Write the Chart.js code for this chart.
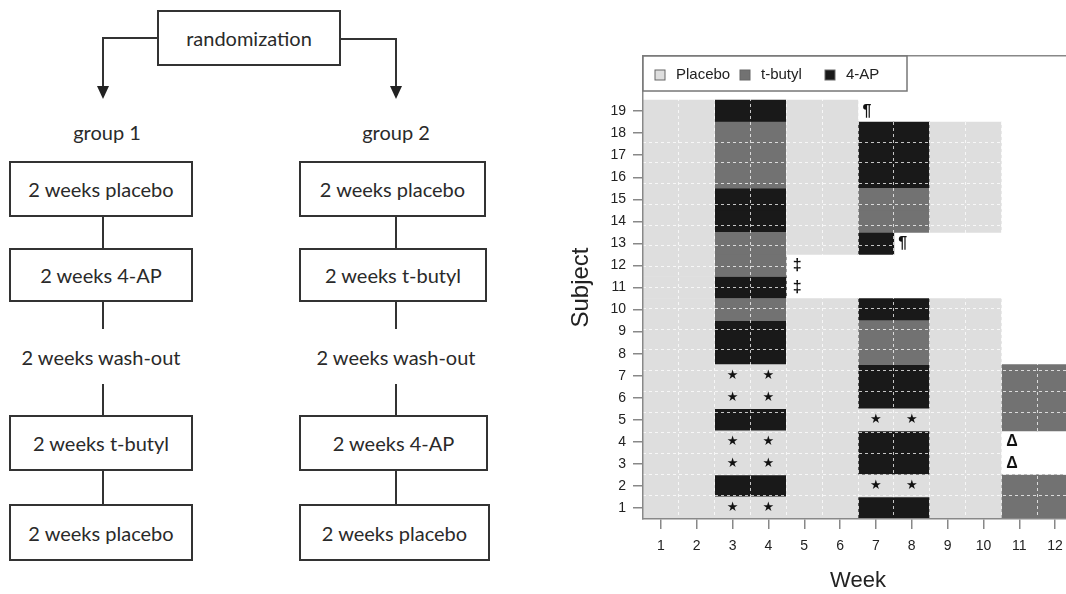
<!DOCTYPE html>
<html>
<head>
<meta charset="utf-8">
<script src="https://cdn.jsdelivr.net/npm/chart.js@4.4.0/dist/chart.umd.min.js"></script>
<style>
html, body { margin: 0; padding: 0; background: #fff; overflow: hidden; width: 1066px; height: 594px; }
#flow { position: absolute; left: 0; top: 0; width: 540px; height: 594px; font-family: Lato, "Open Sans", sans-serif; color: #2a2a2a; }
.box { position: absolute; border: 2px solid #333; box-sizing: border-box; display: flex; align-items: center; justify-content: center; font-size: 20px; background: #fff; white-space: nowrap; }
.txt { position: absolute; transform: translate(-50%, -50%); font-size: 20px; white-space: nowrap; }
.ln { position: absolute; background: #333; }
.arr { position: absolute; width: 0; height: 0; border-left: 6px solid transparent; border-right: 6px solid transparent; border-top: 13px solid #222; }
#wrap { position: absolute; left: 560px; top: 0; width: 520px; height: 594px; }
</style>
</head>
<body>
<div id="flow">
  <div class="box" style="left:157px;top:10px;width:184px;height:56px;">randomization</div>
  <div class="ln" style="left:102px;top:37px;width:56px;height:2px;"></div>
  <div class="ln" style="left:102px;top:37px;width:2px;height:50px;"></div>
  <div class="arr" style="left:97px;top:86px;"></div>
  <div class="ln" style="left:340px;top:38px;width:57px;height:2px;"></div>
  <div class="ln" style="left:395px;top:38px;width:2px;height:49px;"></div>
  <div class="arr" style="left:390px;top:86px;"></div>
  <div class="txt" style="left:107px;top:132px;">group 1</div>
  <div class="txt" style="left:396px;top:132px;">group 2</div>

  <div class="box" style="left:9px;top:161px;width:184px;height:56px;">2 weeks placebo</div>
  <div class="ln" style="left:102px;top:217px;width:2px;height:31px;"></div>
  <div class="box" style="left:9px;top:248px;width:184px;height:54px;">2 weeks 4-AP</div>
  <div class="ln" style="left:102px;top:302px;width:2px;height:27px;"></div>
  <div class="txt" style="left:101px;top:357px;">2 weeks wash-out</div>
  <div class="ln" style="left:102px;top:384px;width:2px;height:31px;"></div>
  <div class="box" style="left:9px;top:415px;width:184px;height:56px;">2 weeks t-butyl</div>
  <div class="ln" style="left:102px;top:471px;width:2px;height:33px;"></div>
  <div class="box" style="left:9px;top:504px;width:184px;height:57px;">2 weeks placebo</div>

  <div class="box" style="left:299px;top:161px;width:187px;height:56px;">2 weeks placebo</div>
  <div class="ln" style="left:395px;top:217px;width:2px;height:31px;"></div>
  <div class="box" style="left:299px;top:248px;width:188px;height:54px;">2 weeks t-butyl</div>
  <div class="ln" style="left:395px;top:302px;width:2px;height:27px;"></div>
  <div class="txt" style="left:396px;top:357px;">2 weeks wash-out</div>
  <div class="ln" style="left:395px;top:384px;width:2px;height:31px;"></div>
  <div class="box" style="left:299px;top:415px;width:189px;height:56px;">2 weeks 4-AP</div>
  <div class="ln" style="left:395px;top:471px;width:2px;height:33px;"></div>
  <div class="box" style="left:299px;top:504px;width:191px;height:57px;">2 weeks placebo</div>
</div>
<div id="wrap"><canvas id="scheduleChart" width="520" height="594"></canvas></div>
<script>
var weekLabels = [1, 2, 3, 4, 5, 6, 7, 8, 9, 10, 11, 12];
var subjectLabels = [1, 2, 3, 4, 5, 6, 7, 8, 9, 10, 11, 12, 13, 14, 15, 16, 17, 18, 19];
// one string per subject (subject 1 first), one letter per week
// P = placebo, T = t-butyl, A = 4-AP, . = no data
var scheduleRows = [
    'PPPPPPAAPPTT',
    'PPAAPPPPPPTT',
    'PPPPPPAAPP..',
    'PPPPPPAAPP..',
    'PPAAPPPPPPTT',
    'PPPPPPAAPPTT',
    'PPPPPPAAPPTT',
    'PPAAPPTTPP..',
    'PPAAPPTTPP..',
    'PPTTPPAAPP..',
    'PPAA........',
    'PPTT........',
    'PPTTPPA.....',
    'PPAAPPTTPP..',
    'PPAAPPTTPP..',
    'PPTTPPAAPP..',
    'PPTTPPAAPP..',
    'PPTTPPAAPP..',
    'PPAAPP......'
];
var treatmentNames = ['Placebo', 't-butyl', '4-AP'];
var treatmentKeys = ['P', 'T', 'A'];
var treatmentColors = ['#dedede', '#727272', '#191919'];
//stars: [week, subject]
var starCells = [[3, 1], [4, 1], [7, 2], [8, 2], [3, 3], [4, 3], [3, 4], [4, 4],
    [7, 5], [8, 5], [3, 6], [4, 6], [3, 7], [4, 7]];
//other footnote marks: [week position, subject, symbol]
var noteMarks = [[6.75, 19, '¶'], [7.75, 13, '¶'], [4.8, 12, '‡'], [4.8, 11, '‡'],
    [10.8, 4, 'Δ'], [10.8, 3, 'Δ']];

Chart.defaults.font.family = '"Liberation Sans", Arial, sans-serif';
Chart.defaults.color = '#222';

//one floating bar per week cell, grouped by treatment
var datasets = treatmentKeys.map(function (key, t) {
    var points = [];
    scheduleRows.forEach(function (row, i) {
        for (var w = 0; w < row.length; w++) {
            if (row[w] === key) {
                points.push({ x: [weekLabels[w] - 0.5, weekLabels[w] + 0.5], y: subjectLabels[i] });
            }
        }
    });
    return {
        label: treatmentNames[t],
        data: points,
        backgroundColor: treatmentColors[t],
        borderWidth: 0,
        grouped: false,
        barPercentage: 1,
        categoryPercentage: 1
    };
});

function halfSteps(n) {
    var out = [];
    for (var i = 1; i < n; i++) out.push({ value: i + 0.5 });
    return out;
}

var markerPlugin = {
    id: 'markers',
    afterDraw: function (chart) {
        var ctx = chart.ctx, xs = chart.scales.x, ys = chart.scales.y;
        ctx.save();
        ctx.fillStyle = '#111';
        ctx.textAlign = 'center';
        ctx.textBaseline = 'middle';
        ctx.font = '13px "DejaVu Sans"';
        starCells.forEach(function (m) {
            ctx.fillText('★', xs.getPixelForValue(m[0]), ys.getPixelForValue(m[1]));
        });
        ctx.font = 'bold 16px "Liberation Sans"';
        noteMarks.forEach(function (m) {
            ctx.fillText(m[2], xs.getPixelForValue(m[0]), ys.getPixelForValue(m[1]));
        });
        ctx.restore();
    }
};

var boxLegend = {
    id: 'boxLegend',
    afterDraw: function (chart) {
        var ctx = chart.ctx, left = chart.chartArea.left, top = chart.chartArea.top;
        var offs = [12, 97, 182];
        ctx.save();
        ctx.fillStyle = '#fff';
        ctx.fillRect(left, top, 264, 35);
        ctx.strokeStyle = '#777';
        ctx.lineWidth = 1.5;
        ctx.strokeRect(left, top, 264, 35);
        ctx.font = '15px "Liberation Sans"';
        ctx.textAlign = 'left';
        ctx.textBaseline = 'middle';
        chart.data.datasets.forEach(function (ds, i) {
            ctx.fillStyle = ds.backgroundColor;
            ctx.fillRect(left + offs[i], top + 14, 10, 10);
            ctx.strokeStyle = '#666';
            ctx.lineWidth = 1;
            ctx.strokeRect(left + offs[i], top + 14, 10, 10);
            ctx.fillStyle = '#222';
            ctx.fillText(ds.label, left + offs[i] + 21, top + 19);
        });
        ctx.restore();
    }
};

new Chart(document.getElementById('scheduleChart'), {
    type: 'bar',
    data: { datasets: datasets },
    plugins: [markerPlugin, boxLegend],
    options: {
        responsive: false,
        animation: false,
        indexAxis: 'y',
        layout: { padding: { left: 0, top: 56, right: 7, bottom: 0 } },
        plugins: { legend: { display: false }, tooltip: { enabled: false } },
        scales: {
            x: {
                type: 'linear', position: 'bottom', min: 0.5, max: 12.5, offset: false,
                afterBuildTicks: function (s) { s.ticks = weekLabels.map(function (v) { return { value: v }; }); },
                afterFit: function (s) { s.height = 75; },
                ticks: { autoSkip: false, maxRotation: 0, padding: 9, font: { size: 14 }, color: '#222' },
                grid: { drawOnChartArea: false, tickLength: 10, color: '#888', lineWidth: 1.5 },
                border: { color: '#888', width: 1.5, z: 2 },
                title: { display: true, text: 'Week', font: { size: 22 }, color: '#222', padding: { top: 0, bottom: 0 } }
            },
            y: {
                type: 'linear', position: 'left', min: 0.5, max: 21.5, offset: false,
                afterBuildTicks: function (s) { s.ticks = subjectLabels.map(function (v) { return { value: v }; }); },
                afterFit: function (s) { s.width = 83; },
                ticks: { autoSkip: false, padding: 7, font: { size: 14 }, color: '#222' },
                grid: { drawOnChartArea: false, offset: false, tickLength: 10, color: '#888', lineWidth: 1.5 },
                border: { color: '#888', width: 1.5, z: 2 },
                title: { display: true, text: 'Subject', font: { size: 24 }, color: '#222', padding: { top: 7, bottom: 0 } }
            },
            xTop: {
                type: 'linear', position: 'top', min: 0.5, max: 12.5,
                afterFit: function (s) { s.height = 0; },
                ticks: { display: false },
                grid: { drawOnChartArea: false, drawTicks: false },
                border: { color: '#888', width: 1.5, z: 2 }
            },
            xGrid: {
                type: 'linear', position: 'bottom', min: 0.5, max: 12.5,
                afterBuildTicks: function (s) { s.ticks = halfSteps(weekLabels.length); },
                afterFit: function (s) { s.height = 0; },
                ticks: { display: false },
                grid: { drawTicks: false, color: 'rgba(255,255,255,0.75)', lineWidth: 1, z: 1 },
                border: { display: false, dash: [3, 3] }
            },
            yGrid: {
                type: 'linear', position: 'left', min: 0.5, max: 21.5,
                afterBuildTicks: function (s) { s.ticks = halfSteps(subjectLabels.length - 1); },
                afterFit: function (s) { s.width = 0; },
                ticks: { display: false },
                grid: { drawTicks: false, color: 'rgba(255,255,255,0.75)', lineWidth: 1, z: 1 },
                border: { display: false, dash: [3, 3] }
            }
        }
    }
});
</script>
</body>
</html>
